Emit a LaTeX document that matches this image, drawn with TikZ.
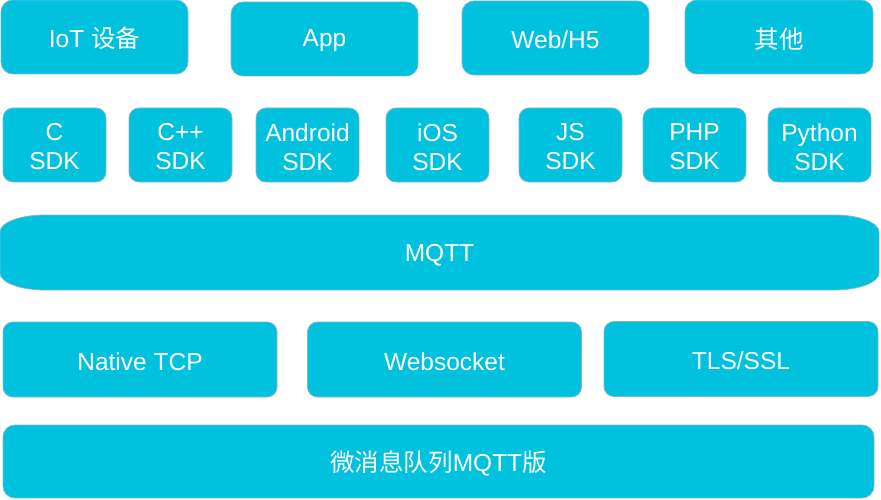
\documentclass[tikz,border=0pt]{standalone}
\usepackage{fontspec}
\setmainfont{Liberation Sans}
\newfontfamily\cjk{Noto Sans CJK SC}
\definecolor{boxfill}{HTML}{00C1DE}
\definecolor{boxline}{HTML}{7DB8CE}
\begin{document}
\begin{tikzpicture}[x=1pt,y=-1pt,
  lbl/.style={text=white, align=center, inner sep=0pt, yshift=-2pt, font=\fontsize{24.5}{29}\selectfont},
  box/.style={draw=boxline, line width=0.8pt, fill=boxfill, rounded corners=11pt, inner sep=0pt},
  sdk/.style={box, minimum width=103pt, minimum height=74pt, rounded corners=10pt},
  top/.style={box, minimum width=187pt, minimum height=74pt, rounded corners=12pt},
  trans/.style={box, minimum width=274pt, minimum height=75pt, rounded corners=10pt}]
\useasboundingbox (0,0) rectangle (881,500);
% row 1
\node[top, label={[lbl, yshift=1pt]center:IoT {\cjk 设备}}] (iot) at (94.5,37) {};
\node[top, label={[lbl]center:App}] (app) at (324.5,39) {};
\node[top, label={[lbl]center:Web/H5}] (web) at (555.5,38) {};
\node[top, minimum width=188pt, label={[lbl]center:{\cjk 其他}}] (other) at (779,37) {};
% row 2
\node[sdk, label={[lbl]center:C\\SDK}] (c) at (54.5,145) {};
\node[sdk, label={[lbl]center:C++\\SDK}] (cpp) at (180.5,145) {};
\node[sdk, label={[lbl]center:Android\\SDK}] (android) at (307.5,145) {};
\node[sdk, label={[lbl]center:iOS\\SDK}] (ios) at (437.5,145) {};
\node[sdk, label={[lbl]center:JS\\SDK}] (js) at (570.5,145) {};
\node[sdk, label={[lbl]center:PHP\\SDK}] (php) at (694.5,145) {};
\node[sdk, label={[lbl]center:Python\\SDK}] (python) at (819.5,145) {};
% MQTT
\draw[draw=boxline, line width=0.8pt, fill=boxfill]
  (45,215) -- (834,215) .. controls (859,215) and (879,222.6) .. (879,232)
  -- (879,273) .. controls (879,282.4) and (859,290) .. (834,290)
  -- (45,290) .. controls (20,290) and (0,282.4) .. (0,273)
  -- (0,232) .. controls (0,222.6) and (20,215) .. (45,215) -- cycle;
\node[lbl] (mqtt) at (439.5,253) {MQTT};
% row 4
\node[trans, label={[lbl]center:Native TCP}] (tcp) at (140,359.5) {};
\node[trans, label={[lbl]center:Websocket}] (ws) at (444.5,359.5) {};
\node[trans, label={[lbl]center:TLS/SSL}] (tls) at (741,359) {};
% row 5
\node[box, minimum width=871pt, minimum height=73pt, rounded corners=12pt,
  label={[lbl]center:{\cjk 微消息队列}MQTT{\cjk 版}}] (mq) at (438.5,461.5) {};
\end{tikzpicture}
\end{document}
